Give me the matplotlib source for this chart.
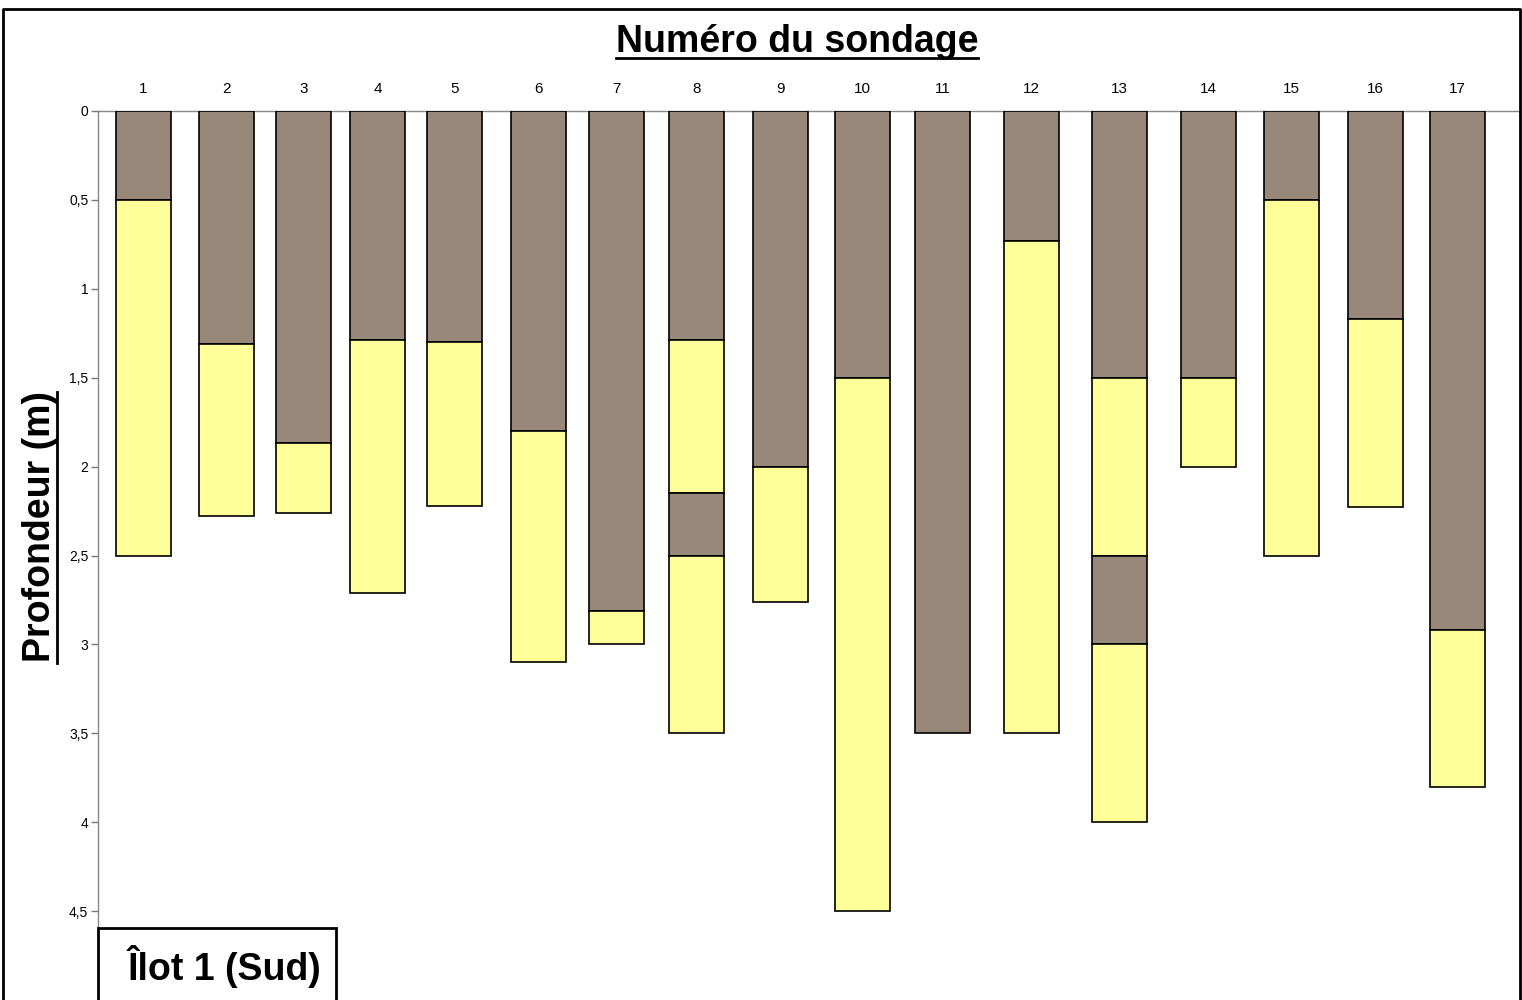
import matplotlib
matplotlib.use("Agg")
import matplotlib.pyplot as plt
from matplotlib.patches import Rectangle
from matplotlib.lines import Line2D

plt.rcParams['font.family'] = ['Liberation Sans', 'DejaVu Sans']

# numero des sondages et position le long du transect (unites arbitraires)
sondages = [str(i) for i in range(1, 18)]
position = [4.55, 12.85, 20.55, 27.95, 35.65, 44.05, 51.85, 59.85, 68.25,
            76.45, 84.45, 93.35, 102.15, 111.05, 119.3, 127.7, 135.9]

# limites inferieures des couches (m), couches alternees : remblai brun / sable jaune
limites = [
    [0.5, 2.5],
    [1.31, 2.28],
    [1.87, 2.26],
    [1.29, 2.71],
    [1.30, 2.22],
    [1.80, 3.10],
    [2.81, 3.0],
    [1.29, 2.15, 2.5, 3.5],
    [2.0, 2.76],
    [1.5, 4.5],
    [3.5],
    [0.73, 3.5],
    [1.5, 2.5, 3.0, 4.0],
    [1.5, 2.0],
    [0.5, 2.5],
    [1.17, 2.23],
    [2.92, 3.80],
]

couleurs = ['#978879', '#ffff99']
largeur = 5.5

fig = plt.figure(figsize=(15.22, 10), dpi=100)
ax = fig.add_axes([98/1522, 0.0, (1520-98)/1522, 0.889])

for x, lims in zip(position, limites):
    haut = 0.0
    for k, bas in enumerate(lims):
        ax.bar(x, bas - haut, bottom=haut, width=largeur,
               color=couleurs[k % 2], edgecolor='black', linewidth=1.2, zorder=3)
        haut = bas

ax.set_xlim(0, 142.2)
ax.set_ylim(5, 0)
ax.set_yticks([0, 0.5, 1, 1.5, 2, 2.5, 3, 3.5, 4, 4.5])
ax.set_yticklabels(['0', '0,5', '1', '1,5', '2', '2,5', '3', '3,5', '4', '4,5'])
ax.set_xticks(position)
ax.set_xticklabels(sondages)
ax.xaxis.tick_top()
ax.tick_params(axis='x', length=0, pad=11, labelsize=11)
ax.tick_params(axis='y', length=5, width=1, color='#777777', pad=2, labelsize=10)
for s in ['bottom', 'right']:
    ax.spines[s].set_visible(False)
for s in ['top', 'left']:
    ax.spines[s].set_color('#888888')
    ax.spines[s].set_linewidth(1)

titre = fig.text(797/1522, 1 - 42/1000, 'Numéro du sondage', ha='center', va='center',
                 fontsize=27, fontweight='bold')
ylab = fig.text(40/1522, 1 - 527/1000, 'Profondeur (m)', ha='center', va='center',
                rotation=90, fontsize=27, fontweight='bold')

# cadre exterieur
fig.add_artist(Line2D([3/1522, 3/1522, 1520/1522, 1520/1522],
                      [-0.01, 1 - 9/1000, 1 - 9/1000, -0.01],
                      color='black', linewidth=2, transform=fig.transFigure))

# encadre du nom de l'ilot
fig.add_artist(Rectangle((98/1522, -0.05), (336-98)/1522, 0.05 + (1000-928)/1000,
                         transform=fig.transFigure, facecolor='white',
                         edgecolor='black', linewidth=2, clip_on=False, zorder=5))
fig.text(224/1522, 1 - 966/1000, 'Îlot 1 (Sud)', ha='center', va='center',
         fontsize=27, fontweight='bold', zorder=6)

# soulignements
fig.canvas.draw()
r = fig.canvas.get_renderer()
bb = titre.get_window_extent(r).transformed(fig.transFigure.inverted())
fig.add_artist(Line2D([bb.x0, bb.x1], [1 - 58/1000] * 2, color='black',
                      linewidth=2, transform=fig.transFigure))
bb = ylab.get_window_extent(r).transformed(fig.transFigure.inverted())
fig.add_artist(Line2D([57/1522] * 2, [bb.y0, bb.y1], color='black',
                      linewidth=2, transform=fig.transFigure))

fig.savefig('out.png', dpi=100)
